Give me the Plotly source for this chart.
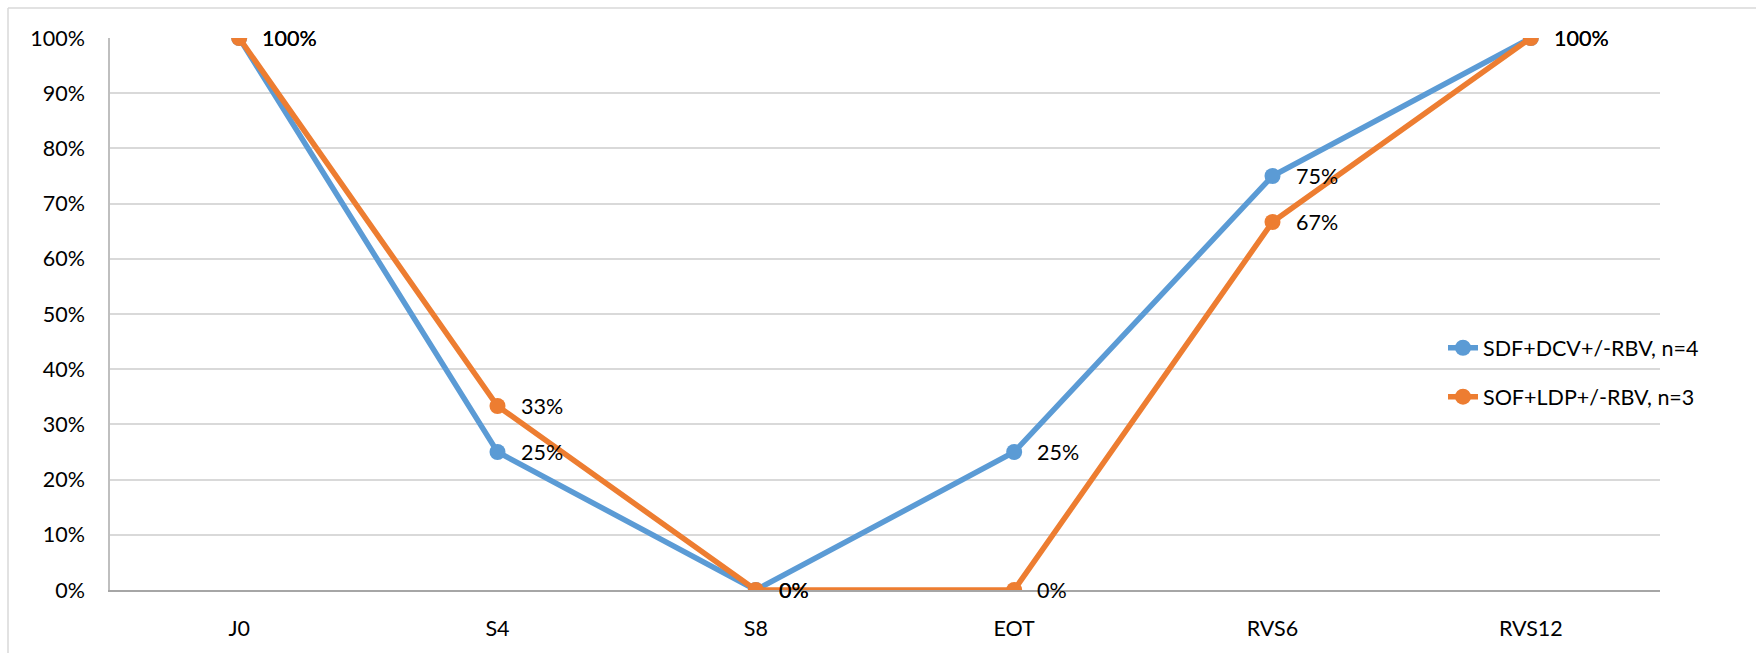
import plotly.graph_objects as go

# Time points and response rates per regimen
categories = ["J0", "S4", "S8", "EOT", "RVS6", "RVS12"]
sdf_dcv = [1.00, 0.25, 0.00, 0.25, 0.75, 1.00]
sof_ldp = [1.00, 1.0 / 3, 0.00, 0.00, 2.0 / 3, 1.00]
series_names = ["SDF+DCV+/-RBV, n=4", "SOF+LDP+/-RBV, n=3"]
series_colors = ["#5B9BD5", "#ED7D31"]
y_ticks = [i / 10 for i in range(11)]

FONT = "Lato, Carlito, Calibri, sans-serif"
W, H = 1756, 653
ML, MR, MT, MB = 110, 96, 38, 61

fig = go.Figure()
annotations = []
for gi, (name, vals, col) in enumerate(zip(series_names, [sdf_dcv, sof_ldp], series_colors)):
    fig.add_trace(go.Scatter(
        x=categories, y=vals, name=name, mode="lines+markers",
        line=dict(color=col, width=5.5),
        marker=dict(color=col, size=16),
        legendgroup=f"g{gi}",
    ))
    for c, v in zip(categories, vals):
        annotations.append(dict(
            x=c, y=v, xref="x", yref="y", text=f"{round(v * 100)}%",
            showarrow=False, xanchor="left", yanchor="middle", xshift=21,
            font=dict(family=FONT, size=21.5, color="#000000"),
        ))

pw = W - ML - MR
ph = H - MT - MB
bx = (8 - ML) / pw
by = (H - MB - 8) / ph

fig.update_layout(
    width=W, height=H,
    margin=dict(l=ML, r=MR, t=MT, b=MB, pad=0),
    paper_bgcolor="white", plot_bgcolor="white",
    font=dict(family=FONT, size=21.5, color="#000000"),
    xaxis=dict(
        type="category", range=[-0.5, 5.5], showgrid=False,
        showline=True, linecolor="#A6A6A6", linewidth=1.5,
        ticks="outside", ticklen=18, tickcolor="rgba(0,0,0,0)",
        zeroline=False, fixedrange=True,
    ),
    yaxis=dict(
        range=[0, 1], tickvals=y_ticks, tickformat=".0%",
        showgrid=True, gridcolor="#D9D9D9", gridwidth=1.5,
        showline=True, linecolor="#BFBFBF", linewidth=1.5,
        ticks="outside", ticklen=19, tickcolor="rgba(0,0,0,0)",
        zeroline=False, fixedrange=True,
    ),
    legend=dict(
        x=(1443 - ML) / pw, y=(H - MB - 373.5) / ph,
        xanchor="left", yanchor="middle",
        bgcolor="rgba(0,0,0,0)", tracegroupgap=18,
        font=dict(family=FONT, size=21.5, color="#000000"),
    ),
    annotations=annotations,
    shapes=[
        dict(type="line", xref="paper", yref="paper", x0=bx, y0=by, x1=1.2, y1=by,
             line=dict(color="#D9D9D9", width=1.5)),
        dict(type="line", xref="paper", yref="paper", x0=bx, y0=by, x1=bx, y1=-0.3,
             line=dict(color="#D9D9D9", width=1.5)),
    ],
)

fig.write_html("out.html")
